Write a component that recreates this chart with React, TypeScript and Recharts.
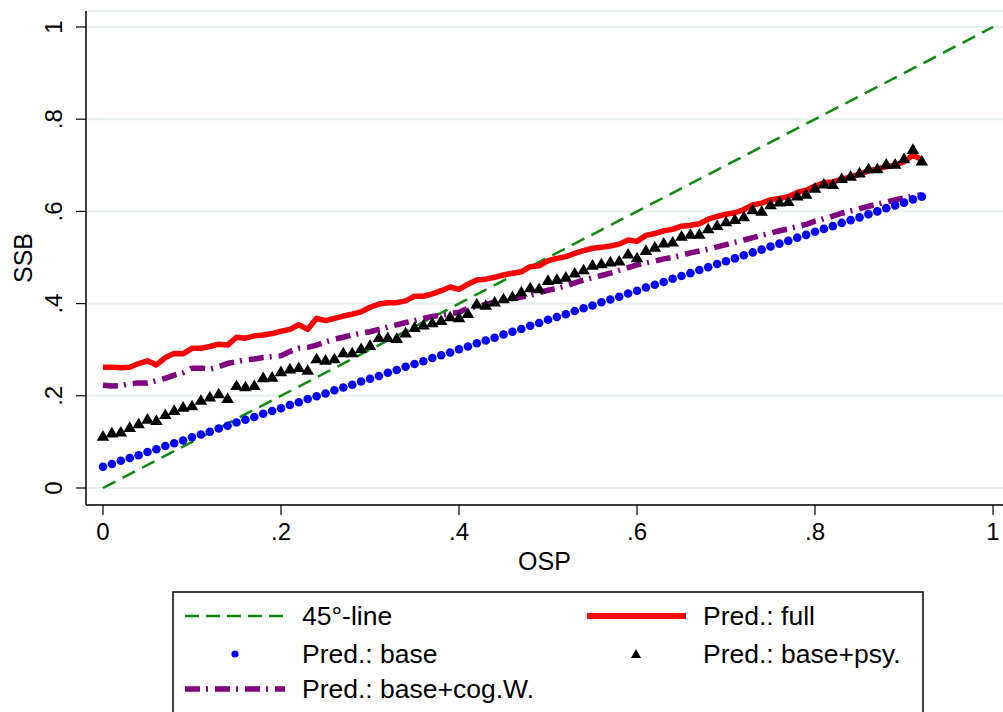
import React from 'react';
import { ComposedChart, Line, Scatter, XAxis, YAxis, CartesianGrid } from 'recharts';

const osp = [
  0, 0.01, 0.02, 0.03, 0.04, 0.05, 0.06, 0.07, 0.08, 0.09,
  0.1, 0.11, 0.12, 0.13, 0.14, 0.15, 0.16, 0.17, 0.18, 0.19,
  0.2, 0.21, 0.22, 0.23, 0.24, 0.25, 0.26, 0.27, 0.28, 0.29,
  0.3, 0.31, 0.32, 0.33, 0.34, 0.35, 0.36, 0.37, 0.38, 0.39,
  0.4, 0.41, 0.42, 0.43, 0.44, 0.45, 0.46, 0.47, 0.48, 0.49,
  0.5, 0.51, 0.52, 0.53, 0.54, 0.55, 0.56, 0.57, 0.58, 0.59,
  0.6, 0.61, 0.62, 0.63, 0.64, 0.65, 0.66, 0.67, 0.68, 0.69,
  0.7, 0.71, 0.72, 0.73, 0.74, 0.75, 0.76, 0.77, 0.78, 0.79,
  0.8, 0.81, 0.82, 0.83, 0.84, 0.85, 0.86, 0.87, 0.88, 0.89,
  0.9, 0.91, 0.92,
];

const predFull = [
  0.262, 0.262, 0.261, 0.262, 0.270, 0.276, 0.267, 0.283, 0.292, 0.291,
  0.303, 0.303, 0.307, 0.312, 0.310, 0.327, 0.325, 0.330, 0.332, 0.335,
  0.340, 0.344, 0.354, 0.344, 0.368, 0.363, 0.368, 0.373, 0.377, 0.382,
  0.392, 0.399, 0.402, 0.402, 0.406, 0.416, 0.416, 0.421, 0.428, 0.436,
  0.431, 0.442, 0.451, 0.453, 0.457, 0.462, 0.466, 0.469, 0.480, 0.482,
  0.493, 0.498, 0.502, 0.509, 0.515, 0.520, 0.522, 0.525, 0.529, 0.538,
  0.535, 0.548, 0.552, 0.558, 0.561, 0.568, 0.570, 0.573, 0.583, 0.589,
  0.594, 0.597, 0.604, 0.614, 0.618, 0.625, 0.628, 0.632, 0.641, 0.646,
  0.655, 0.662, 0.664, 0.670, 0.675, 0.681, 0.688, 0.692, 0.697, 0.700,
  0.708, 0.722, 0.712,
];

const predBase = [
  0.046, 0.052, 0.059, 0.065, 0.071, 0.078, 0.084, 0.091, 0.097, 0.103,
  0.110, 0.116, 0.122, 0.129, 0.135, 0.142, 0.148, 0.154, 0.161, 0.167,
  0.173, 0.180, 0.186, 0.193, 0.199, 0.205, 0.212, 0.218, 0.224, 0.231,
  0.237, 0.243, 0.250, 0.256, 0.263, 0.269, 0.275, 0.282, 0.288, 0.294,
  0.301, 0.307, 0.314, 0.320, 0.326, 0.333, 0.339, 0.345, 0.352, 0.358,
  0.365, 0.371, 0.377, 0.384, 0.390, 0.396, 0.403, 0.409, 0.415, 0.422,
  0.428, 0.435, 0.441, 0.447, 0.454, 0.460, 0.466, 0.473, 0.479, 0.486,
  0.492, 0.498, 0.505, 0.511, 0.517, 0.524, 0.530, 0.536, 0.543, 0.549,
  0.556, 0.562, 0.568, 0.575, 0.581, 0.587, 0.594, 0.600, 0.607, 0.613,
  0.619, 0.626, 0.632,
];

const predPsy = [
  0.113, 0.120, 0.122, 0.132, 0.140, 0.150, 0.147, 0.160, 0.169, 0.176,
  0.179, 0.191, 0.198, 0.205, 0.195, 0.223, 0.220, 0.223, 0.240, 0.241,
  0.253, 0.259, 0.262, 0.256, 0.281, 0.278, 0.281, 0.294, 0.294, 0.303,
  0.310, 0.327, 0.327, 0.325, 0.337, 0.349, 0.354, 0.359, 0.364, 0.372,
  0.370, 0.379, 0.400, 0.397, 0.404, 0.411, 0.416, 0.426, 0.435, 0.433,
  0.451, 0.453, 0.458, 0.467, 0.474, 0.484, 0.487, 0.491, 0.493, 0.508,
  0.500, 0.516, 0.523, 0.532, 0.534, 0.547, 0.551, 0.551, 0.563, 0.570,
  0.578, 0.583, 0.589, 0.604, 0.601, 0.615, 0.621, 0.622, 0.634, 0.638,
  0.651, 0.660, 0.659, 0.672, 0.677, 0.684, 0.693, 0.693, 0.703, 0.703,
  0.715, 0.735, 0.710,
];

const predCogW = [
  0.223, 0.221, 0.222, 0.226, 0.228, 0.228, 0.233, 0.238, 0.245, 0.250,
  0.260, 0.260, 0.258, 0.263, 0.270, 0.274, 0.278, 0.280, 0.283, 0.285,
  0.287, 0.296, 0.303, 0.305, 0.310, 0.317, 0.323, 0.327, 0.332, 0.336,
  0.339, 0.344, 0.349, 0.354, 0.359, 0.363, 0.368, 0.372, 0.375, 0.378,
  0.381, 0.390, 0.394, 0.398, 0.403, 0.408, 0.411, 0.414, 0.418, 0.424,
  0.429, 0.433, 0.438, 0.445, 0.451, 0.456, 0.461, 0.466, 0.472, 0.478,
  0.484, 0.488, 0.492, 0.497, 0.500, 0.505, 0.510, 0.514, 0.518, 0.523,
  0.528, 0.533, 0.538, 0.543, 0.548, 0.553, 0.558, 0.562, 0.567, 0.572,
  0.579, 0.584, 0.590, 0.596, 0.601, 0.606, 0.611, 0.616, 0.620, 0.625,
  0.629, 0.633, 0.636,
];

const diagX = [0, 1];
const diagY = [0, 1];

const xTicks = [0, 0.2, 0.4, 0.6, 0.8, 1];
const yTicks = [0, 0.2, 0.4, 0.6, 0.8, 1];

const rows = osp.map((x, i) => ({
  x,
  full: predFull[i],
  base: predBase[i],
  psy: predPsy[i],
  cog: predCogW[i],
}));
const diag = diagX.map((x, i) => ({ x, y: diagY[i] }));

const FONT = '"Liberation Sans", Arial, Helvetica, sans-serif';
const GREEN = '#0a8a0a';
const RED = '#ff0000';
const BLUE = '#0000ff';
const PURPLE = '#800080';

const fmt = (v: number) => (v === 0 ? '0' : v === 1 ? '1' : String(v).replace(/^0/, ''));

const YTick = (props: any) => {
  const { x, y, payload } = props;
  return (
    <text x={x} y={y} transform={`rotate(-90 ${x} ${y})`} textAnchor="middle"
      fontSize={24} fontFamily={FONT} fill="#000">
      {fmt(payload.value)}
    </text>
  );
};

const Triangle = (props: any) => {
  const { cx, cy } = props;
  if (cx == null || cy == null) return null;
  return <path d={`M${cx},${cy - 5.8}L${cx + 6.3},${cy + 4.8}L${cx - 6.3},${cy + 4.8}Z`} fill="#000" />;
};

const Dot = (props: any) => {
  const { cx, cy } = props;
  if (cx == null || cy == null) return null;
  return <circle cx={cx} cy={cy} r={4.3} fill={BLUE} />;
};

const LegendBox = () => {
  const fs = 26.5;
  const base = (c: number) => c + fs * 0.355;
  const r1 = 25, r2 = 63, r3 = 98;
  return (
    <svg width={752} height={140} style={{ position: 'absolute', left: 172, top: 591 }}>
      <rect x={1} y={1} width={750} height={160} fill="#fff" stroke="#000" strokeWidth={1.5} />
      <line x1={13} x2={113} y1={r1} y2={r1} stroke={GREEN} strokeWidth={2.5} strokeDasharray="14 7" />
      <text x={130} y={base(r1)} fontSize={fs} fontFamily={FONT}>45°-line</text>
      <line x1={415} x2={514} y1={r1} y2={r1} stroke={RED} strokeWidth={6} />
      <text x={531} y={base(r1)} fontSize={fs} fontFamily={FONT}>Pred.: full</text>
      <circle cx={63} cy={r2} r={3.6} fill={BLUE} />
      <text x={130} y={base(r2)} fontSize={fs} fontFamily={FONT}>Pred.: base</text>
      <path d={`M464,${r2 - 5}L469,${r2 + 4}L459,${r2 + 4}Z`} fill="#000" />
      <text x={531} y={base(r2)} fontSize={fs} fontFamily={FONT}>Pred.: base+psy.</text>
      <line x1={13} x2={113} y1={r3} y2={r3} stroke={PURPLE} strokeWidth={5.5} strokeDasharray="15 6 2 7" />
      <text x={130} y={base(r3)} fontSize={fs} fontFamily={FONT}>Pred.: base+cog.W.</text>
    </svg>
  );
};

export default function App() {
  return (
    <div style={{ position: 'absolute', left: 0, top: 0, width: 1003, height: 712, overflow: 'hidden', background: '#fff' }}>
      <ComposedChart width={1003} height={712} margin={{ top: 11, right: 0, left: 0, bottom: 137 }}>
        <CartesianGrid horizontal vertical={false} stroke="#e8eff2" strokeWidth={2} />
        <XAxis
          type="number"
          dataKey="x"
          domain={[-0.0191, 1.0112]}
          allowDataOverflow
          ticks={xTicks}
          tickFormatter={fmt}
          height={70}
          tickSize={10}
          tickMargin={8}
          axisLine={{ stroke: '#000', strokeWidth: 1.5 }}
          tickLine={{ stroke: '#000', strokeWidth: 1.2 }}
          tick={{ fontSize: 24, fontFamily: FONT, fill: '#000' }}
          label={{ value: 'OSP', position: 'insideBottom', offset: 5, fontSize: 25, fontFamily: FONT, fill: '#000' }}
        />
        <YAxis
          type="number"
          domain={[-0.0369, 1.0347]}
          allowDataOverflow
          ticks={yTicks}
          width={86}
          tickSize={10}
          tickMargin={14}
          axisLine={{ stroke: '#000', strokeWidth: 1.5 }}
          tickLine={{ stroke: '#000', strokeWidth: 1.2 }}
          tick={<YTick />}
          label={{
            content: (p: any) => {
              const vb = p.viewBox || { x: 0, y: 11, height: 494 };
              const cx = 23;
              const cy = vb.y + vb.height / 2;
              return (
                <text x={cx} y={cy} transform={`rotate(-90 ${cx} ${cy})`} textAnchor="middle"
                  dy="0.355em" fontSize={25} fontFamily={FONT} fill="#000">SSB</text>
              );
            },
          }}
        />
        <Line data={diag} dataKey="y" type="linear" stroke={GREEN} strokeWidth={2.5}
          strokeDasharray="14 8" dot={false} activeDot={false} isAnimationActive={false} />
        <Line data={rows} dataKey="full" type="linear" stroke={RED} strokeWidth={5.5}
          strokeLinejoin="round" dot={false} activeDot={false} isAnimationActive={false} />
        <Scatter data={rows} dataKey="base" shape={<Dot />} isAnimationActive={false} />
        <Scatter data={rows} dataKey="psy" shape={<Triangle />} isAnimationActive={false} />
        <Line data={rows} dataKey="cog" type="linear" stroke={PURPLE} strokeWidth={5.5}
          strokeDasharray="15 6 2 7" dot={false} activeDot={false} isAnimationActive={false} />
      </ComposedChart>
      <LegendBox />
    </div>
  );
}
